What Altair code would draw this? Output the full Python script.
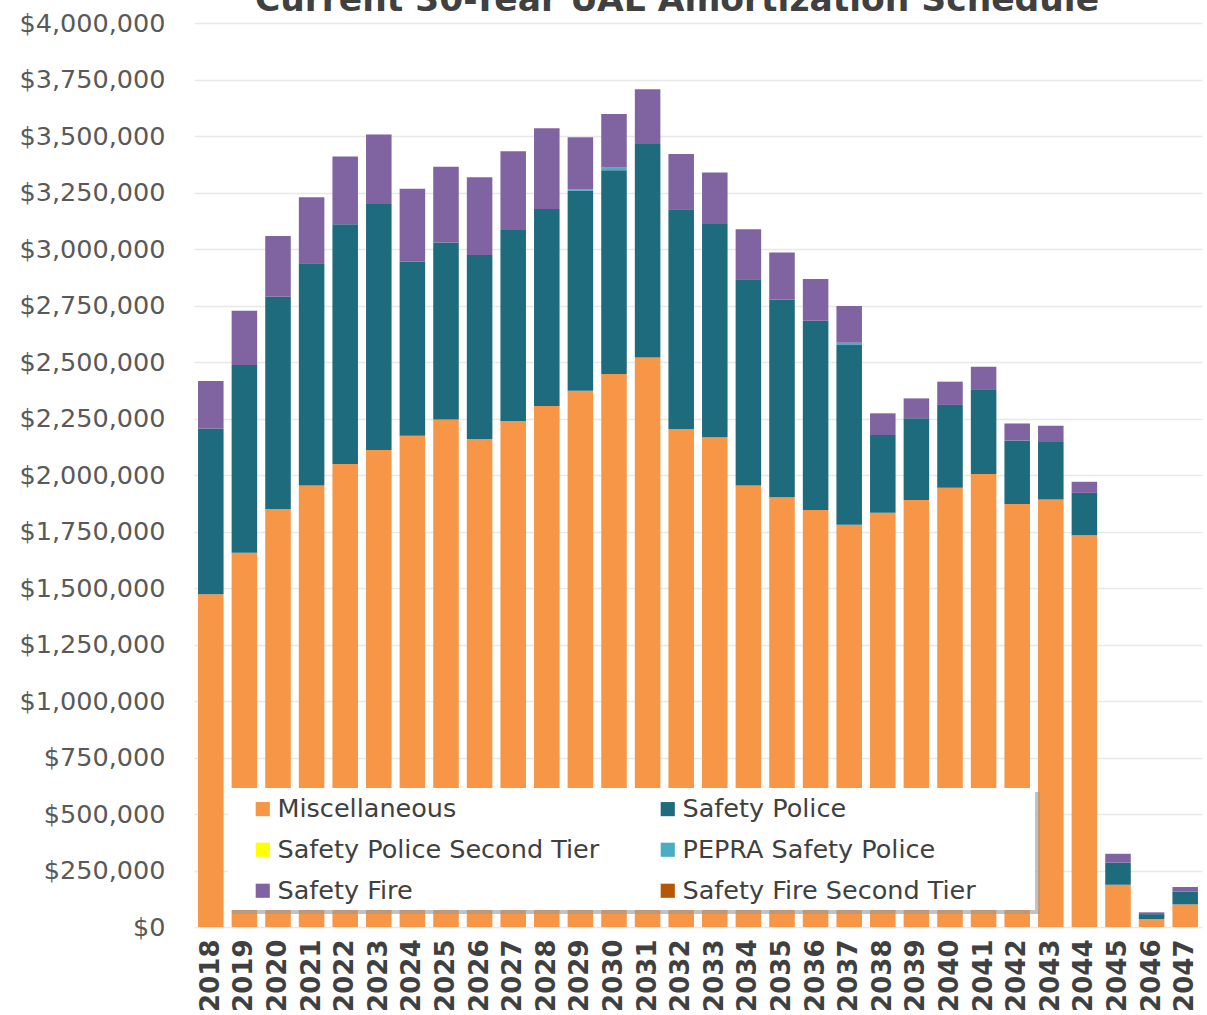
import altair as alt
import pandas as pd

# Fiscal years of the amortization schedule
years = [str(y) for y in range(2018, 2048)]

# Annual UAL payments by plan (dollars)
miscellaneous = [1472000, 1656000, 1850000, 1953000, 2049000, 2111000, 2174000, 2246000,
                 2159000, 2239000, 2305000, 2373000, 2447000, 2520000, 2204000, 2167000,
                 1954000, 1901000, 1845000, 1780000, 1833000, 1889000, 1944000, 2004000,
                 1872000, 1892000, 1733000, 187000, 35000, 100000]
safety_police = [734000, 831000, 939000, 984000, 1060000, 1088000, 770000, 783000,
                 814000, 845000, 872000, 884000, 902000, 945000, 972000, 944000,
                 912000, 876000, 838000, 795000, 344000, 362000, 366000, 375000,
                 281000, 254000, 188000, 98000, 22000, 57000]
safety_police_2nd = [0] * 30
pepra_safety_police = [0, 0, 0, 0, 0, 0, 0, 0, 0, 0, 0, 8000, 12000, 0, 0, 0,
                       0, 0, 0, 10000, 0, 0, 0, 0, 0, 0, 0, 0, 0, 0]
safety_fire = [210000, 240000, 269000, 292000, 300000, 308000, 323000, 335000,
               344000, 348000, 357000, 229000, 236000, 242000, 244000, 228000,
               221000, 207000, 184000, 163000, 96000, 88000, 103000, 100000,
               75000, 72000, 49000, 39000, 8000, 20000]
safety_fire_2nd = [0] * 30

plans = ["Miscellaneous", "Safety Police", "Safety Police Second Tier",
         "PEPRA Safety Police", "Safety Fire", "Safety Fire Second Tier"]
plan_colors = {
    "Miscellaneous": "#F79646",
    "Safety Police": "#1F6B7E",
    "Safety Police Second Tier": "#FFFF00",
    "PEPRA Safety Police": "#4BACC6",
    "Safety Fire": "#8064A2",
    "Safety Fire Second Tier": "#B65708",
}
series = [miscellaneous, safety_police, safety_police_2nd,
          pepra_safety_police, safety_fire, safety_fire_2nd]

# The legend grid fills column by column, so list entries so that rows read
# Miscellaneous / Safety Police, Second Tier / PEPRA, Fire / Fire Second Tier.
legend_order = [plans[0], plans[2], plans[4], plans[1], plans[3], plans[5]]

rows = []
for order, (plan, vals) in enumerate(zip(plans, series)):
    for yr, v in zip(years, vals):
        rows.append({"Year": yr, "Plan": plan, "Amount": v, "order": order})
df = pd.DataFrame(rows)

FONT = "DejaVu Sans"
TEXT = "#404040"

bars = alt.Chart(df).mark_bar().encode(
    x=alt.X("Year:N", sort=years,
            scale=alt.Scale(paddingInner=0.24, paddingOuter=0.12),
            axis=alt.Axis(title=None, labelAngle=-90, labelFont=FONT,
                          labelFontSize=26, labelFontWeight="bold",
                          labelColor=TEXT, labelPadding=12,
                          ticks=False, domain=False, grid=False)),
    y=alt.Y("Amount:Q", stack="zero",
            scale=alt.Scale(domain=[0, 4000000], nice=False),
            axis=alt.Axis(title=None, values=list(range(0, 4000001, 250000)),
                          format="$,.0f", labelFont=FONT, labelFontSize=25.5,
                          labelColor="#595959", labelPadding=29,
                          ticks=False, domain=False, gridColor="#e8e8e8",
                          gridWidth=1.5)),
    color=alt.Color("Plan:N",
                    scale=alt.Scale(domain=legend_order,
                                    range=[plan_colors[p] for p in legend_order]),
                    legend=alt.Legend(title=None, orient="none", legendX=56,
                                      legendY=773, columns=2, padding=0,
                                      symbolType="square", symbolSize=200,
                                      symbolStrokeWidth=0,
                                      labelFont=FONT, labelFontSize=25.5,
                                      labelColor=TEXT, labelOffset=2,
                                      labelLimit=0, columnPadding=55,
                                      rowPadding=14)),
    order=alt.Order("order:Q"),
)

single = pd.DataFrame({"k": [0]})

# Legend panel with a soft drop shadow
shadow = alt.Chart(single).mark_rect(color="#9a9a9a", opacity=0.6).encode(
    x=alt.value(38), x2=alt.value(846), y=alt.value(769), y2=alt.value(891))
panel = alt.Chart(single).mark_rect(color="white").encode(
    x=alt.value(34), x2=alt.value(841), y=alt.value(765), y2=alt.value(887))

# Chart heading, sitting against the top edge of the canvas
heading = alt.Chart(single).mark_text(
    text="Current 30-Year UAL Amortization Schedule", font=FONT, fontSize=34.5,
    fontWeight="bold", color=TEXT, align="center", baseline="alphabetic",
).encode(x=alt.value(483), y=alt.value(-12))

chart = alt.layer(bars, shadow, panel, heading).properties(
    width=1008, height=904,
    autosize=alt.AutoSizeParams(type="none"),
    padding={"left": 194, "top": 23, "right": 5, "bottom": 88},
).configure(background="white").configure_view(stroke=None)

chart.save("out.html", embed_options={"renderer": "svg", "actions": False})
